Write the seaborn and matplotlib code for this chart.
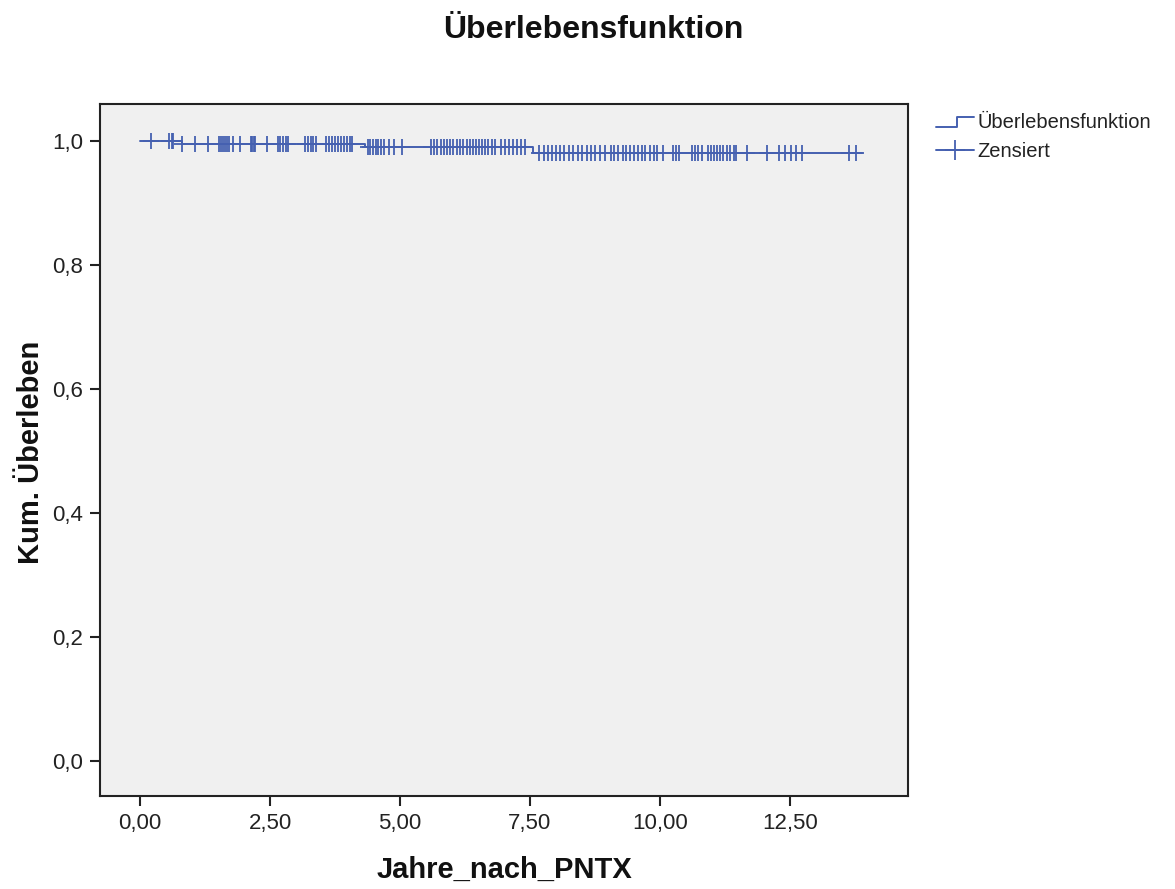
import numpy as np
import pandas as pd
import matplotlib
matplotlib.use("Agg")
import matplotlib.pyplot as plt
import seaborn as sns
from matplotlib.lines import Line2D
from matplotlib.legend_handler import HandlerBase

# ---- data ----
event_times = [0.80, 4.33, 7.56]
surv_values = [0.996, 0.990, 0.981]
censor_times = [
    0.22, 0.56, 0.61, 0.64, 0.80, 1.06, 1.31,
    1.52, 1.56, 1.60, 1.64, 1.68, 1.72, 1.79, 1.92,
    2.13, 2.16, 2.19, 2.22, 2.44, 2.65, 2.70, 2.75, 2.80, 2.84,
    3.18, 3.23, 3.28, 3.33, 3.38,
    3.57, 3.63, 3.69, 3.75, 3.81, 3.87, 3.93, 3.99, 4.03, 4.08,
    4.38, 4.43, 4.48, 4.53, 4.58, 4.63, 4.70, 4.78, 4.88, 5.04,
    5.60, 5.66, 5.72, 5.78, 5.84, 5.90, 5.96, 6.02,
    6.10, 6.16, 6.22, 6.28, 6.34, 6.40, 6.46, 6.52, 6.58, 6.64, 6.70, 6.76, 6.82,
    6.95, 7.02, 7.10, 7.18, 7.25, 7.32, 7.40,
    7.68, 7.76, 7.84, 7.92, 8.00, 8.07,
    8.15, 8.25, 8.32, 8.42, 8.50, 8.60, 8.68, 8.75, 8.85, 8.95,
    9.05, 9.12, 9.20, 9.28, 9.35, 9.42, 9.50, 9.58, 9.65, 9.72, 9.80, 9.88, 9.95, 10.05,
    10.25, 10.30, 10.36, 10.62, 10.68, 10.74, 10.80,
    10.92, 10.98, 11.04, 11.10, 11.15, 11.22, 11.28, 11.35, 11.42, 11.47,
    11.67, 12.06, 12.28, 12.40, 12.52, 12.62, 12.74, 13.63, 13.77,
]
end_time = 13.88
x_ticks = [0.0, 2.5, 5.0, 7.5, 10.0, 12.5]
x_tick_labels = ["0,00", "2,50", "5,00", "7,50", "10,00", "12,50"]
y_ticks = [0.0, 0.2, 0.4, 0.6, 0.8, 1.0]
y_tick_labels = ["0,0", "0,2", "0,4", "0,6", "0,8", "1,0"]
title = "Überlebensfunktion"
x_label = "Jahre_nach_PNTX"
y_label = "Kum. Überleben"
legend_labels = ["Überlebensfunktion", "Zensiert"]

# ---- build step curve ----
def surv_at(t):
    s = 1.0
    for et, sv in zip(event_times, surv_values):
        if t >= et:
            s = sv
    return s

curve_t = [0.0] + event_times + [end_time]
curve_s = [1.0] + surv_values + [surv_values[-1]]
curve = pd.DataFrame({"t": curve_t, "s": curve_s})
cens = pd.DataFrame({"t": censor_times, "s": [surv_at(t) for t in censor_times]})

# ---- style ----
sns.set_style("white")
plt.rcParams["font.family"] = ["Liberation Sans", "DejaVu Sans"]
color = "#4560B0"

fig = plt.figure(figsize=(11.75, 8.89), dpi=100)
ax = fig.add_axes([100 / 1175, 1 - 796 / 889, 808 / 1175, 692 / 889])
ax.set_facecolor("#F0F0F0")

sns.lineplot(data=curve, x="t", y="s", ax=ax, color=color, linewidth=1.4,
             drawstyle="steps-post", legend=False)
sns.scatterplot(data=cens, x="t", y="s", ax=ax, color=color, marker="+",
                s=120, linewidth=1.3, legend=False, zorder=3)

ax.set_xlim(-0.77, 14.77)
ax.set_ylim(-0.056, 1.06)
ax.set_xticks(x_ticks)
ax.set_xticklabels(x_tick_labels)
ax.set_yticks(y_ticks)
ax.set_yticklabels(y_tick_labels)
ax.tick_params(axis="both", which="both", direction="out", length=7, width=1.5,
               color="#222222", labelsize=16, labelcolor="#222222", pad=5,
               bottom=True, left=True, top=False, right=False)
for side, sp in ax.spines.items():
    sp.set_visible(True)
    sp.set_color("#222222")
    sp.set_linewidth(1.5)

ax.set_xlabel(x_label, fontsize=21, fontweight="bold", color="#111111")
ax.set_ylabel(y_label, fontsize=21, fontweight="bold", color="#111111")
ax.xaxis.set_label_coords(0.5, -(870 - 796) / 692)
ax.yaxis.set_label_coords(-(100 - 31) / 808, (796 - 452) / 692)
ax.xaxis.label.set_va("center")
ax.yaxis.label.set_va("center")
fig.text(593 / 1175, 1 - 30 / 889, title, ha="center", va="center",
         fontsize=23, fontweight="bold", color="#111111")


class StepHandler(HandlerBase):
    def create_artists(self, legend, orig_handle, xdescent, ydescent,
                       width, height, fontsize, trans):
        y0 = height * 0.1
        y1 = height * 0.75
        xs = [0, width * 0.55, width * 0.55, width]
        ys = [y0, y0, y1, y1]
        ln = Line2D(xs, ys, color=color, linewidth=1.4, transform=trans)
        return [ln]


class CensHandler(HandlerBase):
    def create_artists(self, legend, orig_handle, xdescent, ydescent,
                       width, height, fontsize, trans):
        ln = Line2D([0, width], [height / 2, height / 2], color=color,
                    linewidth=1.4, transform=trans)
        mk = Line2D([width / 2], [height / 2], color=color, marker="+",
                    markersize=14, markeredgewidth=1.3, linestyle="none",
                    transform=trans)
        return [ln, mk]


h1 = Line2D([], [], color=color)
h2 = Line2D([], [], color=color, marker="+")
leg = fig.legend([h1, h2], legend_labels,
                 handler_map={h1: StepHandler(), h2: CensHandler()},
                 loc="upper left", bbox_to_anchor=(936 / 1175, 1 - 113 / 889),
                 frameon=False, fontsize=14.5, handlelength=1.9, handletextpad=0.15,
                 labelspacing=0.5, borderaxespad=0, borderpad=0)
for t in leg.get_texts():
    t.set_color("#222222")

fig.savefig("out.png", dpi=100, facecolor="white")
